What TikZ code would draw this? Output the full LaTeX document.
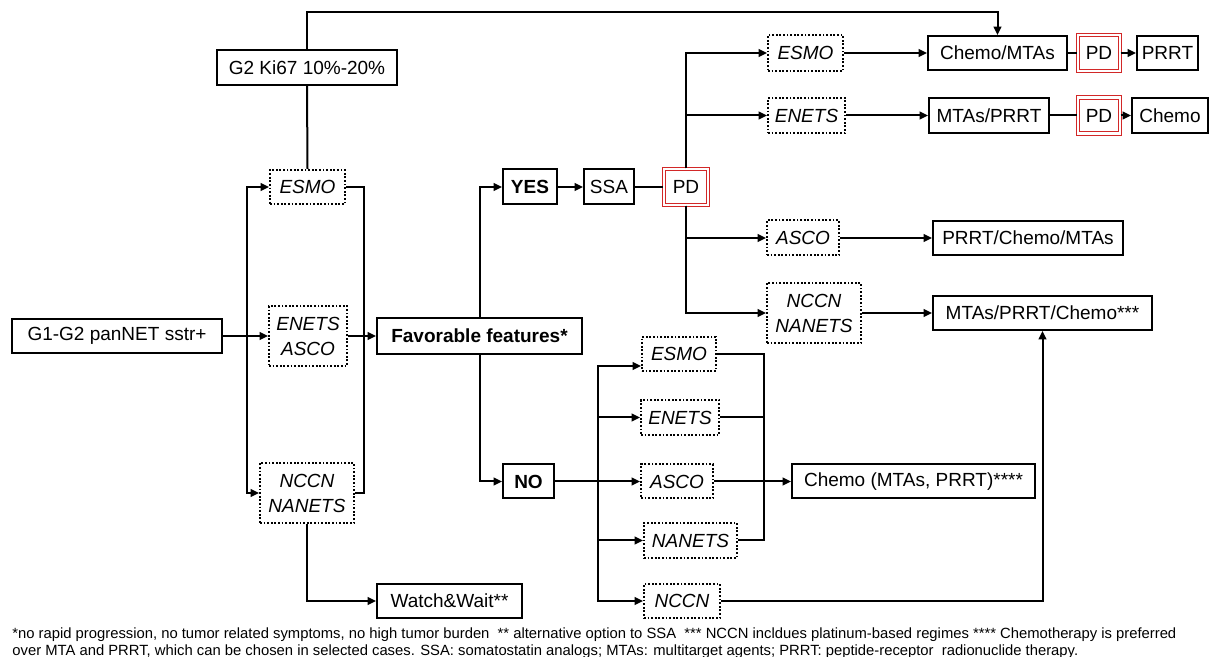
\documentclass[tikz,border=0pt]{standalone}
\usepackage{fontspec}
\setmainfont{Liberation Sans}
\usetikzlibrary{arrows.meta}
\definecolor{pdred}{RGB}{210,40,40}
\begin{document}
\begin{tikzpicture}[x=0.5pt,y=-0.5pt,
  every node/.style={font=\fontsize{9.5}{12.5}\selectfont, inner sep=0pt, align=center},
  sz/.style 2 args={minimum width=#1*0.5pt, minimum height=#2*0.5pt},
  box/.style={draw, line width=1pt, rectangle},
  gl/.style={draw, line width=1pt, dash pattern=on 0.9pt off 0.9pt, font=\fontsize{9.5}{12.5}\selectfont\itshape},
  pdb/.style={draw=pdred, double=white, double distance=1.1pt, line width=0.6pt},
  con/.style={line width=1pt},
  arr/.style={con, -{Triangle[length=4.2pt,width=3.8pt]}},
  bld/.style={font=\fontsize{9.5}{12.5}\selectfont\bfseries},
]
\fill[white] (0,0) rectangle (1211,657);
\useasboundingbox (0,0) rectangle (1211,657);

% left part
\node[box, sz={180}{35}] (g2) at (307,67.5) {G2 Ki67 10\%-20\%};
\node[box, sz={210}{34}] (g1) at (117,336) {G1-G2 panNET sstr+};
\node[gl, sz={75}{34}] (esmoL) at (307.5,187) {ESMO};
\node[gl, sz={78}{60}] (enasL) at (308,336) {ENETS\\ASCO};
\node[gl, sz={94}{60}] (ncnaL) at (307,493) {NCCN\\NANETS};
\node[box, bld, sz={205}{36}] (fav) at (479.5,336) {Favorable features*};
\node[box, sz={145}{34}] (ww) at (449.5,601) {Watch\&Wait**};

% YES branch
\node[box, bld, sz={54}{35}] (yes) at (530,187) {YES};
\node[box, sz={50}{35}] (ssa) at (609,187) {SSA};
\node[pdb, sz={44}{36}] (pd0) at (686,187) {PD};
\node[gl, sz={75}{36}] (esmoT) at (805.5,53) {ESMO};
\node[gl, sz={77}{35}] (enetsT) at (806.5,115.5) {ENETS};
\node[gl, sz={72}{35}] (ascoT) at (803,238) {ASCO};
\node[gl, sz={94}{60}] (ncnaT) at (814,313) {NCCN\\NANETS};
\node[box, sz={139}{34}] (cm) at (997.5,53) {Chemo/MTAs};
\node[pdb, sz={42}{36}] (pd1) at (1099,53) {PD};
\node[box, sz={61}{34}] (prrt) at (1167.5,53) {PRRT};
\node[box, sz={120}{35}] (mp) at (989,115.5) {MTAs/PRRT};
\node[pdb, sz={42}{36}] (pd2) at (1099,115.5) {PD};
\node[box, sz={76}{35}] (ch2) at (1170,115.5) {Chemo};
\node[box, sz={190}{34}] (pcm) at (1028,238) {PRRT/Chemo/MTAs};
\node[box, sz={219}{34}] (mpc) at (1042.5,313) {MTAs/PRRT/Chemo***};

% NO branch
\node[box, bld, sz={51}{34}] (no) at (528.5,481.5) {NO};
\node[gl, sz={74}{34}] (esmoB) at (679,354) {ESMO};
\node[gl, sz={78}{35}] (enetsB) at (680,417.5) {ENETS};
\node[gl, sz={72}{34}] (ascoB) at (677,481.5) {ASCO};
\node[gl, sz={93}{35}] (nanetsB) at (690.5,540.5) {NANETS};
\node[gl, sz={76}{34}] (nccnB) at (682,601) {NCCN};
\node[box, sz={243}{34}] (chB) at (913.5,481.5) {Chemo (MTAs, PRRT)****};

% footnote
\node[anchor=north west, align=left, font=\fontsize{7.4}{8.8}\selectfont] (fn) at (12,627)
 {*no rapid progression, no tumor related symptoms, no high tumor burden\ \ ** alternative option to SSA\ \ *** NCCN incldues platinum-based regimes **** Chemotherapy is preferred\\
 over MTA and PRRT, which can be chosen in selected\ cases. SSA: somatostatin analogs; MTAs: multitarget agents; PRRT: peptide-receptor\ \ radionuclide therapy.};

% coordinates
\coordinate (top) at (650,12);
\coordinate (s1) at (247,336);
\coordinate (m1) at (364,336);
\coordinate (s2) at (598,481.5);
\coordinate (s2top) at (598,366);
\coordinate (m2) at (764,481.5);

% connectors left
\draw[arr] (g2.north) |- (top) -| (cm.north);
\draw[con] (g2.south) -- (esmoL.north);
\draw[arr] (g1.east) -- (enasL.west);
\draw[arr] (s1) |- (esmoL.west);
\draw[arr] (s1) |- (ncnaL.west);
\draw[con] (esmoL.east) -| (m1);
\draw[con] (ncnaL.east) -| (m1);
\draw[arr] (enasL.east) -- (fav.west);
\draw[arr] (ncnaL.south) |- (ww.west);
\draw[arr] (fav.north) |- (yes.west);
\draw[arr] (fav.south) |- (no.west);

% YES branch
\draw[arr] (yes.east) -- (ssa.west);
\draw[con] (ssa.east) -- (pd0.west);
\draw[arr] (pd0.north) |- (esmoT.west);
\draw[arr] (pd0.north) |- (enetsT.west);
\draw[arr] (pd0.south) |- (ascoT.west);
\draw[arr] (pd0.south) |- (ncnaT.west);
\draw[arr] (esmoT.east) -- (cm.west);
\draw[con] (cm.east) -- (pd1.west);
\draw[arr] (pd1.east) -- (prrt.west);
\draw[arr] (enetsT.east) -- (mp.west);
\draw[con] (mp.east) -- (pd2.west);
\draw[arr] (pd2.east) -- (ch2.west);
\draw[arr] (ascoT.east) -- (pcm.west);
\draw[arr] (ncnaT.east) -- (mpc.west);

% NO branch
\draw[arr] (no.east) -- (ascoB.west);
\draw[arr] (s2) -- (s2top) -- (esmoB.west |- s2top);
\draw[arr] (s2) |- (enetsB.west);
\draw[arr] (s2) |- (nanetsB.west);
\draw[arr] (s2) |- (nccnB.west);
\draw[con] (esmoB.east) -| (m2);
\draw[con] (enetsB.east) -| (m2);
\draw[con] (nanetsB.east) -| (m2);
\draw[arr] (ascoB.east) -- (chB.west);
\draw[arr] (nccnB.east) -| (mpc.south);
\end{tikzpicture}
\end{document}
